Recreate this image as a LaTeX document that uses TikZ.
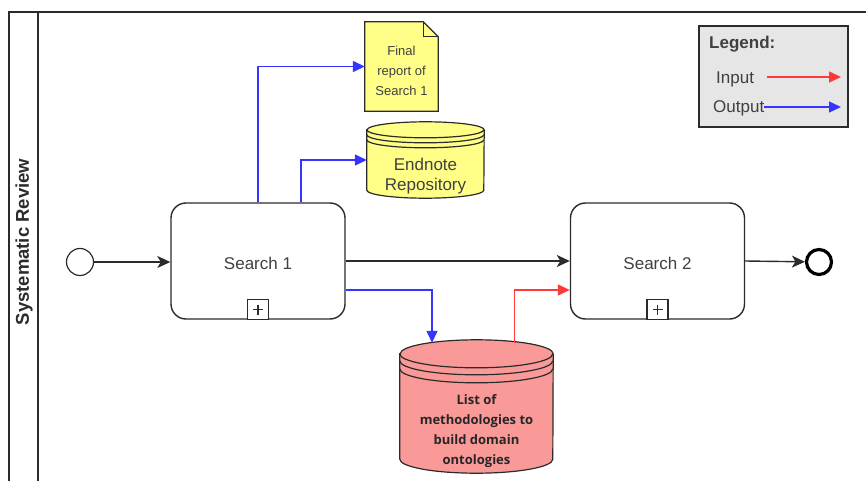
\documentclass[tikz,border=0pt]{standalone}
\usepackage{fontspec}
\setmainfont{Liberation Sans}
\newfontfamily\storefont{Open Sans}
\usetikzlibrary{arrows.meta,calc}

\definecolor{edgegrey}{HTML}{2B2B2B}
\definecolor{txtgrey}{HTML}{404040}
\definecolor{notefill}{HTML}{FFFF88}
\definecolor{storefill}{HTML}{F99A98}
\definecolor{outblue}{HTML}{3535FF}
\definecolor{inred}{HTML}{FF3838}
\definecolor{legendfill}{HTML}{E6E6E6}

% data store: node name, half width, top radius, first offset, second offset, fill
\newcommand\datastore[6]{%
  \draw[line width=1.2pt, draw=edgegrey, fill=#6]
    ($(#1.north west)+(0,#3)$) -- ($(#1.south west)+(0,-#3)$)
    arc[start angle=180,end angle=360,x radius=#2pt,y radius=#3pt]
    -- ($(#1.north east)+(0,#3)$)
    arc[start angle=0,end angle=180,x radius=#2pt,y radius=#3pt] -- cycle;
  \foreach \d in {0,#4,#5}
    \draw[line width=1.2pt, draw=edgegrey] ($(#1.north west)+(0,#3+\d)$)
      arc[start angle=180,end angle=360,x radius=#2pt,y radius=#3pt];
}

\tikzset{
  x=1pt, y=-1pt,
  task/.style={draw=edgegrey, line width=1.4pt, rounded corners=15pt, fill=white,
    minimum width=174pt, minimum height=116pt, text=txtgrey,
    font=\fontsize{17}{20}\selectfont},
  plusbox/.style={draw=edgegrey, line width=1.2pt, fill=white,
    minimum width=21pt, minimum height=20pt, inner sep=0pt},
  flow/.style={draw=edgegrey, line width=1.4pt,
    -{Stealth[length=13pt,width=12pt,inset=3.5pt]}},
  outflow/.style={draw=outblue, line width=1.4pt,
    -{Triangle[length=12pt,width=11pt]}, fill=none},
  inflow/.style={draw=inred, line width=1.4pt,
    -{Triangle[length=12pt,width=11pt]}, fill=none},
  shapebox/.style={draw=none, inner sep=0pt},
  legtext/.style={text=txtgrey, inner sep=0pt, font=\fontsize{17}{20}\selectfont},
}

\begin{document}
\begin{tikzpicture}
\useasboundingbox (0,0) rectangle (866,481);

% pool with its lane header
\draw[edgegrey, line width=1.4pt] (866,12) -- (9,12) -- (9,481);
\draw[edgegrey, line width=1.4pt] (38,12) -- (38,481);
\node[rotate=90, inner sep=0pt, font=\bfseries\fontsize{18.5}{20}\selectfont, text=edgegrey]
  (lane) at (24,242) {Systematic Review};

% events
\node[circle, draw=edgegrey, line width=1.2pt, minimum size=27pt, inner sep=0pt]
  (start) at (80,262) {};
\node[circle, draw=black, line width=3.2pt, minimum size=25pt, inner sep=0pt]
  (end) at (819,262) {};

% sub-processes
\node[task] (s1) at (258,261) {};
\node[task] (s2) at (657.5,261) {};
\node[text=txtgrey, font=\fontsize{17}{20}\selectfont] (s1text) at ($(s1.center)+(0,2.5)$) {Search 1};
\node[text=txtgrey, font=\fontsize{17}{20}\selectfont] (s2text) at ($(s2.center)+(0,2.5)$) {Search 2};
\foreach \t in {s1,s2} {
  \node[plusbox] (\t plus) at ($(\t.south)+(0,-10)$) {};
  \draw[edgegrey, line width=1.2pt] ($(\t plus.center)+(-5,0)$) -- ($(\t plus.center)+(5,0)$);
  \draw[edgegrey, line width=1.2pt] ($(\t plus.center)+(0,-5)$) -- ($(\t plus.center)+(0,5)$);
}

% report document
\node[shapebox, minimum width=73pt, minimum height=89pt] (doc) at (401.5,66.5) {};
\draw[edgegrey, line width=1.2pt, fill=notefill]
  (doc.north west) -- ($(doc.north east)+(-15,0)$) -- ($(doc.north east)+(0,15)$)
  -- (doc.south east) -- (doc.south west) -- cycle;
\draw[edgegrey, line width=1pt]
  ($(doc.north east)+(-15,0)$) -- ($(doc.north east)+(-15,15)$) -- ($(doc.north east)+(0,15)$);
\node[align=center, text=txtgrey, font=\fontsize{13}{20}\selectfont]
  (doctext) at ($(doc.center)+(0,4)$) {Final\\report of\\Search 1};

% endnote repository
\node[shapebox, minimum width=117pt, minimum height=76pt] (endnote) at (425.5,160) {};
\datastore{endnote}{58.5}{8}{5}{10}{notefill}
\node[align=center, text=txtgrey, font=\fontsize{17}{20}\selectfont]
  (endnotetext) at ($(endnote.center)+(0,16)$) {Endnote\\Repository};

% list of methodologies
\node[shapebox, minimum width=153pt, minimum height=133pt] (methods) at (476.5,406.5) {};
\datastore{methods}{76.5}{14}{7}{15}{storefill}
\node[align=center, text=black!85, font=\storefont\bfseries\fontsize{13}{20}\selectfont]
  (methodstext) at ($(methods.center)+(0,25)$) {List of\\methodologies to\\build domain\\ontologies};

% sequence flow
\draw[flow] (start) -- (start -| s1.west);
\draw[flow] (s1.east) -- (s2.west);
\draw[flow] (s2.east) -- (end);

% outputs of search 1
\draw[outflow] (s1.north) |- (doc.west);
\draw[outflow] ($(s1.north)+(43,0)$) |- (endnote.west);
\draw[outflow] ($(s1.east)+(0,29)$) -| ($(methods.north)+(-44.5,3)$);

% input of search 2
\draw[inflow] ($(methods.north)+(38,3)$) |- ($(s2.west)+(0,29)$);

% legend
\node[draw=edgegrey, line width=1.2pt, fill=legendfill, minimum width=149pt,
  minimum height=101pt, inner sep=0pt] (legend) at (773.5,76.5) {};
\node[legtext, font=\bfseries\fontsize{17}{20}\selectfont, anchor=west]
  (legtitle) at (709,44) {Legend:};
\node[legtext, anchor=west] (legin) at (716,79) {Input};
\node[legtext, anchor=west] (legout) at (713,108.5) {Output};
\coordinate (leginend) at (841,77);
\coordinate (legoutend) at (841,107);
\draw[inflow] (767,77) -- (leginend);
\draw[outflow] (legout.east |- legoutend) -- (legoutend);
\end{tikzpicture}
\end{document}
